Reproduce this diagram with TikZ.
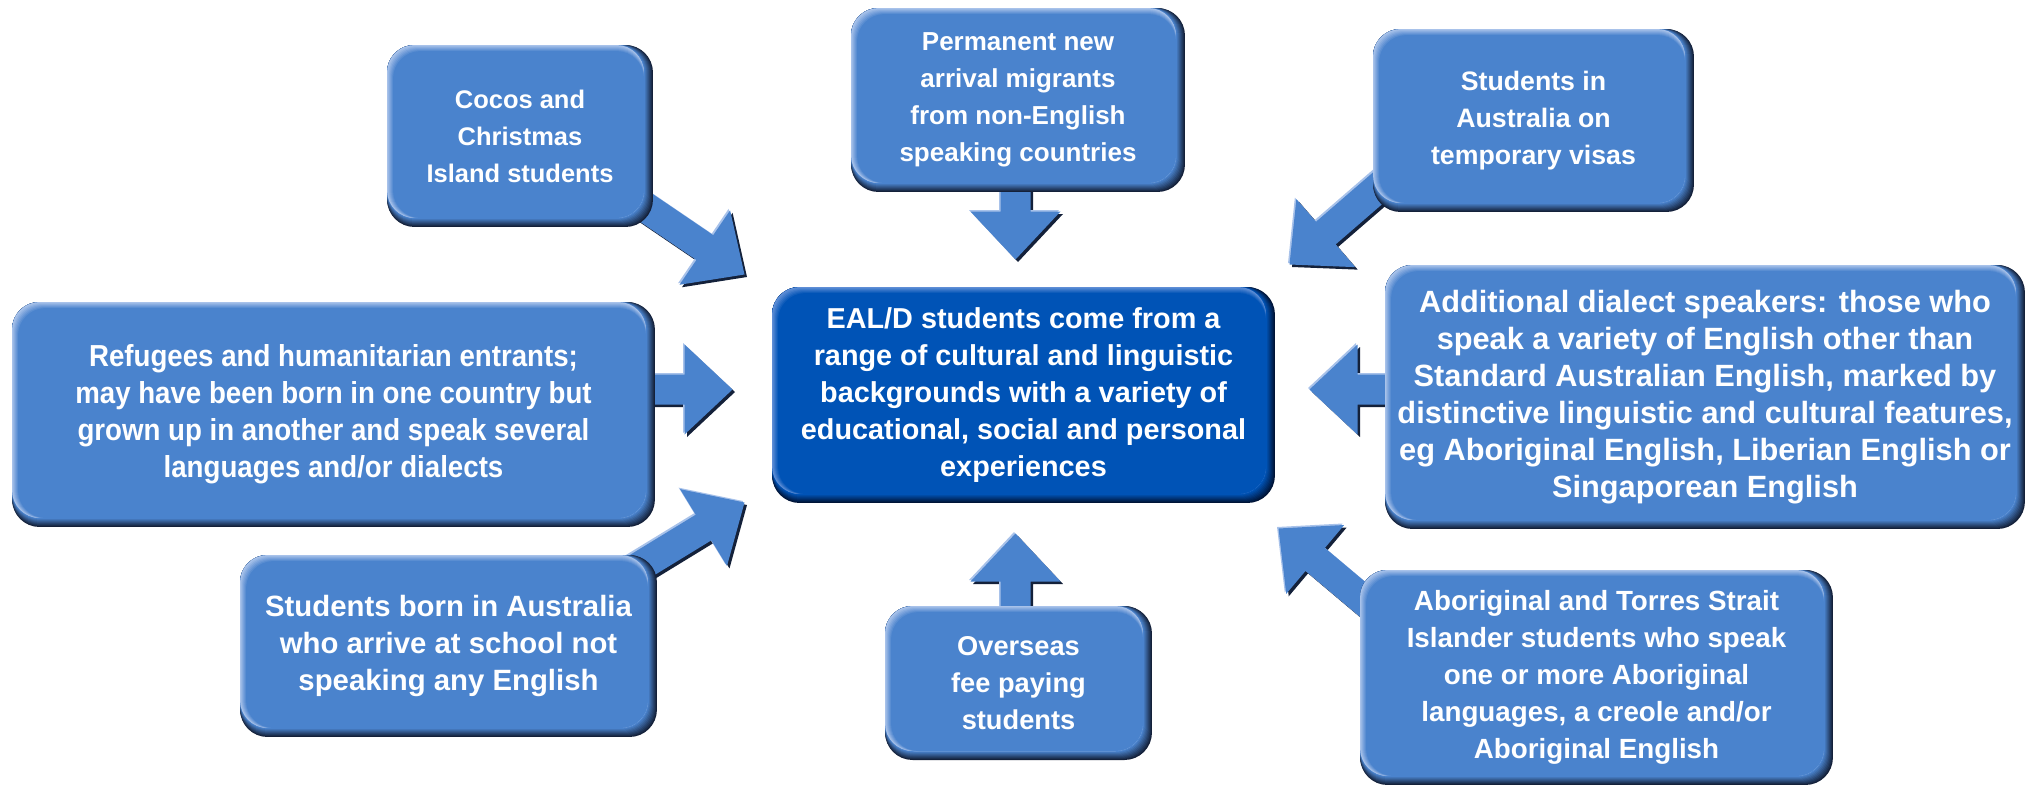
\documentclass[tikz,border=0pt]{standalone}
\usepackage{fontspec}
\setmainfont{Liberation Sans}
\newfontfamily\narrowfont[FakeStretch=0.91]{Liberation Sans}
\usetikzlibrary{calc,backgrounds}

\definecolor{boxblue}{RGB}{74,131,205}
\definecolor{boxdark}{RGB}{20,33,58}
\definecolor{boxlight}{RGB}{168,194,234}
\definecolor{hubblue}{RGB}{0,83,182}
\definecolor{hubdark}{RGB}{0,20,55}
\definecolor{hublight}{RGB}{95,142,214}

\tikzset{
  bubble/.style={inner sep=0pt, outer sep=0pt, align=center, text=white,
    font=\bfseries\fontsize{14.5}{21}\selectfont},
  size/.style={font=\bfseries\fontsize{#1}{21}\selectfont},
}

% bevelled box behind a node
\newcommand\bevel[4]{%
  \fill[#3, rounded corners=0.55cm] (#1.north west) rectangle (#1.south east);
  \foreach \lev in {1,...,8}{%
    \pgfmathtruncatemacro\mix{100*\lev/8}
    \fill[#2!\mix!#3, rounded corners=0.55cm] (#1.north west) rectangle ([shift={(-\lev,-\lev)}]#1.south east);}
  \foreach \lev in {0,...,6}{%
    \pgfmathtruncatemacro\mix{100*\lev/6}
    \fill[#2!\mix!#4, rounded corners=0.55cm] ([shift={(\lev,\lev)}]#1.north west) rectangle ([shift={(-9,-9)}]#1.south east);}
}
\newcommand\arrowfill[2]{%
  \fill[#1] ([shift={#2}]s1) -- ([shift={#2}]b1) -- ([shift={#2}]h1) -- ([shift={#2}]tp)
    -- ([shift={#2}]h2) -- ([shift={#2}]b2) -- ([shift={#2}]s2) -- cycle;}
% fat pointer from #1 to #2
\newcommand\pointer[2]{%
  \path ($(#2)!0.96cm!(#1)$) coordinate (hb)
    ($(#1)!0.3cm!90:(#2)$) coordinate (s1)
    ($(#1)!0.3cm!-90:(#2)$) coordinate (s2)
    ($(hb)!0.3cm!90:(#2)$) coordinate (b1)
    ($(hb)!0.3cm!-90:(#2)$) coordinate (b2)
    ($(hb)!0.9cm!90:(#2)$) coordinate (h1)
    ($(hb)!0.9cm!-90:(#2)$) coordinate (h2)
    (#2) coordinate (tp);
  \arrowfill{boxdark}{(0,0)}
  \arrowfill{boxlight}{(-4,-4)}
  \arrowfill{boxblue}{(-2.5,-2.5)}
}

\begin{document}
\begin{tikzpicture}[x=0.02cm, y=-0.02cm, line join=round]
\useasboundingbox (0,0) rectangle (2035,789);

\node[bubble, minimum width=5.32cm, minimum height=3.64cm] (cocos) at (520,136)
  {Cocos and\\Christmas\\Island students};
\node[bubble, size=14.8, minimum width=6.68cm, minimum height=3.68cm] (perm) at (1018,100)
  {Permanent new\\arrival migrants\\from non-English\\speaking countries};
\node[bubble, size=15.2, minimum width=6.42cm, minimum height=3.66cm] (temp) at (1533.5,120.5)
  {Students in\\Australia on\\temporary visas};
\node[bubble, size=17.5, minimum width=12.8cm, minimum height=5.28cm] (addl) at (1705,397)
  {Additional dialect speakers: those who\\speak a variety of English other than\\Standard Australian English, marked by\\distinctive linguistic and cultural features,\\eg Aboriginal English, Liberian English or\\Singaporean English};
\node[bubble, minimum width=12.86cm, minimum height=4.5cm,
  font=\narrowfont\bfseries\fontsize{17.3}{21}\selectfont] (refug) at (333.5,414.5)
  {Refugees and humanitarian entrants;\\may have been born in one country but\\grown up in another and speak several\\languages and/or dialects};
\node[bubble, size=16.4, minimum width=10.06cm, minimum height=4.32cm] (hub) at (1023.5,395)
  {EAL/D students come from a\\range of cultural and linguistic\\backgrounds with a variety of\\educational, social and personal\\experiences};
\node[bubble, size=16.7, minimum width=8.34cm, minimum height=3.64cm] (born) at (448.5,646)
  {Students born in Australia\\who arrive at school not\\speaking any English};
\node[bubble, size=15.5, minimum width=5.34cm, minimum height=3.08cm] (over) at (1018.5,683)
  {Overseas\\fee paying\\students};
\node[bubble, size=15.8, minimum width=9.46cm, minimum height=4.3cm] (abor) at (1596.5,677.5)
  {Aboriginal and Torres Strait\\Islander students who speak\\one or more Aboriginal\\languages, a creole and/or\\Aboriginal English};

% where the pointers start and end
\path
  ([shift={(-37,-39)}]cocos.south east) coordinate (cocos-s)  (747,277) coordinate (cocos-t)
  ([shift={(0,-40)}]perm.south) coordinate (perm-s)            (1018,262) coordinate (perm-t)
  ([shift={(23,-35)}]temp.south west) coordinate (temp-s)      (1292,267) coordinate (temp-t)
  ([shift={(45,-5)}]addl.west) coordinate (addl-s)             (1312,392) coordinate (addl-t)
  ([shift={(-45,-22.5)}]refug.east) coordinate (refug-s)       (735,392) coordinate (refug-t)
  ([shift={(-36,27)}]born.north east) coordinate (born-s)      (747,505) coordinate (born-t)
  ([shift={(-0.5,44)}]over.north) coordinate (over-s)          (1018,536) coordinate (over-t)
  ([shift={(35,57)}]abor.north west) coordinate (abor-s)       (1281,531) coordinate (abor-t)
  ;

\begin{pgfonlayer}{background}
  \foreach \b in {cocos,perm,temp,addl,refug,born,over,abor}
    \pointer{\b-s}{\b-t};
  \foreach \b in {cocos,perm,temp,addl,refug,born,over,abor}
    \bevel{\b}{boxblue}{boxdark}{boxlight};
  \bevel{hub}{hubblue}{hubdark}{hublight};
\end{pgfonlayer}
\end{tikzpicture}
\end{document}
